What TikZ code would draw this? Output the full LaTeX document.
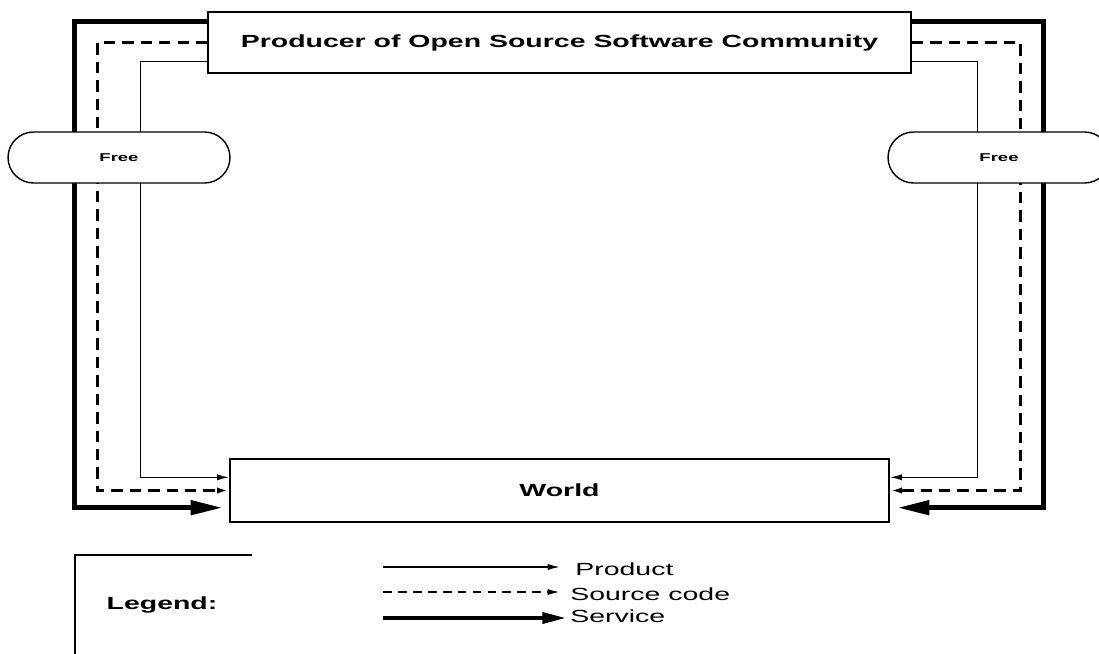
\documentclass[tikz,border=0pt]{standalone}
\usepackage{fontspec}
\setmainfont{Liberation Sans}
\usepackage{graphicx}
\usetikzlibrary{arrows.meta,calc,shapes.misc}
\newcommand{\widetext}[1]{\scalebox{1.62}[1]{#1}}
\begin{document}
\begin{tikzpicture}[x=0.02cm,y=-0.02cm,
    box/.style={draw,line width=0.8pt,inner sep=0pt,font=\bfseries},
    freebox/.style={rounded rectangle,draw,fill=white,line width=0.8pt,minimum width=4.44cm,minimum height=1.02cm,inner sep=0pt,font=\fontsize{6.5}{8}\selectfont\bfseries},
    product/.style={line width=0.9pt,-{Latex[length=7pt,width=3.5pt]}},
    source/.style={line width=1.4pt,dash pattern=on 6.5pt off 4pt,-{Latex[length=7pt,width=3.5pt]}},
    service/.style={line width=2.6pt,-{Triangle[length=18pt,width=8pt]}},
    item/.style={anchor=base west,inner sep=0pt}]
  \clip (0,0) rectangle (1099,653);
  \node[box,minimum width=14.06cm,minimum height=1.22cm] (prod) at (559.5,42.5) {\widetext{Producer of Open Source Software Community}};
  \node[box,minimum width=13.18cm,minimum height=1.26cm] (world) at (559.5,490.5) {\widetext{World}};
  % service
  \draw[service] ($(prod.north west)+(0,10)$) -- ++(-133,0) |- ($(world.south west)+(-7,-15)$);
  \draw[service] ($(prod.north east)+(0,10)$) -- ++(132,0) |- ($(world.south east)+(8,-15)$);
  % source code
  \draw[source] (prod.west) -- ++(-110,0) |- (world.west);
  \draw[source] (prod.east) -- ++(109,0) |- (world.east);
  % product
  \draw[product] ($(prod.south west)+(0,-12)$) -- ++(-67,0) |- ($(world.north west)+(0,19)$);
  \draw[product] ($(prod.south east)+(0,-12)$) -- ++(66,0) |- ($(world.north east)+(0,19)$);
  \node[freebox] (freeL) at (119,157.5) {\widetext{Free}};
  \node[freebox] (freeR) at (999,157.5) {\widetext{Free}};
  % legend
  \draw[line width=0.8pt] (252,555) -- (75,555) -- (75,660);
  \node[font=\bfseries] (legend) at (162,605) {\widetext{Legend:}};
  \node[item] (lprod) at (575,575) {\widetext{Product}};
  \node[item] (lsrc) at (570,600) {\widetext{Source code}};
  \node[item] (lserv) at (570,622) {\widetext{Service}};
  \coordinate (pa) at (383,567); \coordinate (pb) at (560,567);
  \coordinate (sa) at (383,592); \coordinate (sb) at (560,592);
  \coordinate (va) at (383,618); \coordinate (vb) at (567,618);
  \draw[product] (pa) -- (pb);
  \draw[source,line width=1pt,dash pattern=on 5pt off 3.5pt] (sa) -- (sb);
  \draw[line width=2.6pt,-{Triangle[length=14pt,width=6pt]}] (va) -- (vb);
\end{tikzpicture}
\end{document}
